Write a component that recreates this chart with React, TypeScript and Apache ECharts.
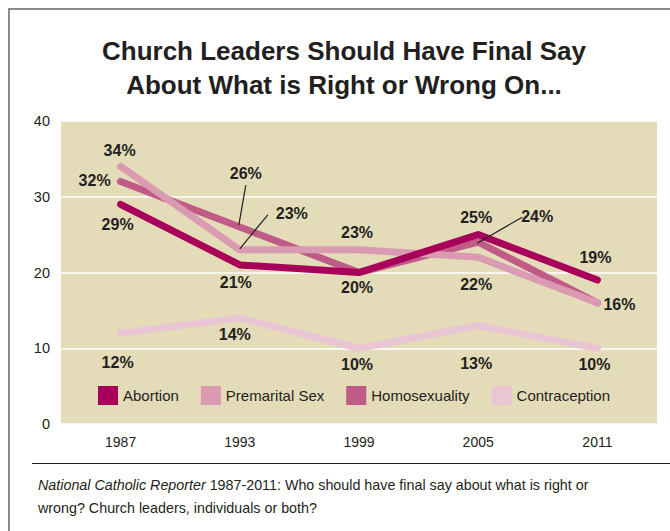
import React, { useEffect, useRef } from "react";
import * as echarts from "echarts";

const years = ["1987", "1993", "1999", "2005", "2011"];
const seriesNames = ["Abortion", "Premarital Sex", "Homosexuality", "Contraception"];
const abortion = [29, 21, 20, 25, 19];
const premaritalSex = [34, 23, 23, 22, 16];
const homosexuality = [32, 26, 20, 24, 16];
const contraception = [12, 14, 10, 13, 10];
const yTicks = [0, 10, 20, 30, 40];

const titleLines = ["Church Leaders Should Have Final Say", "About What is Right or Wrong On..."];
const footerText =
  "{i|National Catholic Reporter} 1987-2011: Who should have final say about what is right or\nwrong? Church leaders, individuals or both?";

const colors = ["#A8005A", "#D99AB2", "#BF5B86", "#EAC5D4"];

// label placement (offset of label center from the point); null = no label
const abortionLabelOffsets = [[-3, 20], [-4, 18], [-2, 15], [-2, -17], [-2, -23]];
const premaritalLabelOffsets = [[-1, -16], [52, -36], [-2, -17], [-2, 27], [22, 2]];
const homosexualityLabelOffsets = [[-26, -1], [6, -54], null, [59, -26], null];
const contraceptionLabelOffsets = [[-3, 29], [-5, 17], [-2, 16], [-2, 38], [-3, 16]];

// leader lines: series index, point index, start offset, end offset
const leaders = [
  { s: 1, i: 1, from: [0, -1], to: [28, -35] },
  { s: 2, i: 1, from: [-1, -2], to: [6, -42] },
  { s: 2, i: 3, from: [-1, 1], to: [44, -25] },
];

const FONT = "'Liberation Sans', Arial, sans-serif";

export default function App() {
  const ref = useRef<HTMLDivElement>(null);
  useEffect(() => {
    if (!ref.current) return;
    const chart = echarts.init(ref.current, null, { renderer: "svg" });
    const values = [abortion, premaritalSex, homosexuality, contraception];
    const offsets = [abortionLabelOffsets, premaritalLabelOffsets, homosexualityLabelOffsets, contraceptionLabelOffsets];
    const order = [3, 2, 1, 0];
    const series = order.map((k) => ({
      name: seriesNames[k],
      type: "line",
      z: 2 + (3 - k),
      symbol: "circle",
      symbolSize: 1,
      showSymbol: true,
      itemStyle: { color: colors[k] },
      lineStyle: { color: colors[k], width: 7, cap: "round", join: "round" },
      data: values[k].map((v, i) => {
        const off = offsets[k][i];
        return {
          value: v,
          label: off
            ? {
                show: true,
                position: "inside",
                offset: off,
                formatter: "{c}%",
                color: "#231f20",
                fontSize: 16,
                fontWeight: "bold",
                fontFamily: FONT,
                align: "center",
                verticalAlign: "middle",
              }
            : { show: false },
        };
      }),
    }));

    chart.setOption({
      animation: false,
      backgroundColor: "#ffffff",
      legend: {
        data: seriesNames,
        left: 93,
        top: 381,
        icon: "rect",
        itemWidth: 20,
        itemHeight: 19,
        itemGap: 22,
        textStyle: { fontSize: 15, color: "#231f20", fontFamily: FONT },
      },
      grid: {
        left: 61,
        right: 13,
        top: 121,
        bottom: 107,
        show: true,
        backgroundColor: "#E4DBB9",
        borderWidth: 0,
      },
      xAxis: {
        type: "category",
        data: years,
        boundaryGap: true,
        axisLine: { show: false },
        axisTick: { show: false },
        axisLabel: { color: "#231f20", fontSize: 14, fontFamily: FONT, margin: 11 },
      },
      yAxis: {
        type: "value",
        min: yTicks[0],
        max: yTicks[yTicks.length - 1],
        interval: 10,
        axisLine: { show: false },
        axisTick: { show: false },
        axisLabel: { color: "#231f20", fontSize: 14.5, fontFamily: FONT, margin: 11 },
        splitLine: { show: true, lineStyle: { color: "#ffffff", width: 1.5 } },
      },
      series,
    });

    const graphics: any[] = [
      { type: "line", shape: { x1: 8, y1: 9, x2: 670, y2: 9 }, style: { stroke: "#8a8a8a", lineWidth: 2 } },
      { type: "line", shape: { x1: 9, y1: 8, x2: 9, y2: 531 }, style: { stroke: "#8a8a8a", lineWidth: 2 } },
      { type: "line", shape: { x1: 32, y1: 463.5, x2: 670, y2: 463.5 }, style: { stroke: "#231f20", lineWidth: 1 } },
      ...titleLines.map((t, i) => ({
        type: "text",
        x: 344,
        y: 51 + i * 34,
        style: {
          text: t,
          fontSize: 26,
          fontWeight: "bold",
          fontFamily: FONT,
          fill: "#231f20",
          align: "center",
          verticalAlign: "middle",
        },
      })),
      {
        type: "text",
        x: 38,
        y: 473,
        style: {
          text: footerText,
          fontSize: 14.3,
          lineHeight: 23,
          fill: "#231f20",
          fontFamily: FONT,
          rich: { i: { fontStyle: "italic", fontSize: 14.3, fontFamily: FONT, fill: "#231f20" } },
        },
      },
    ];
    leaders.forEach((l) => {
      const v = values[l.s][l.i];
      const p = chart.convertToPixel({ xAxisIndex: 0, yAxisIndex: 0 }, [l.i, v]) as number[];
      graphics.push({
        type: "line",
        z: 100,
        shape: { x1: p[0] + l.from[0], y1: p[1] + l.from[1], x2: p[0] + l.to[0], y2: p[1] + l.to[1] },
        style: { stroke: "#231f20", lineWidth: 1.2 },
      });
    });
    chart.setOption({ graphic: graphics });

    return () => chart.dispose();
  }, []);
  return <div ref={ref} style={{ position: "fixed", left: 0, top: 0, width: 670, height: 531 }} />;
}
